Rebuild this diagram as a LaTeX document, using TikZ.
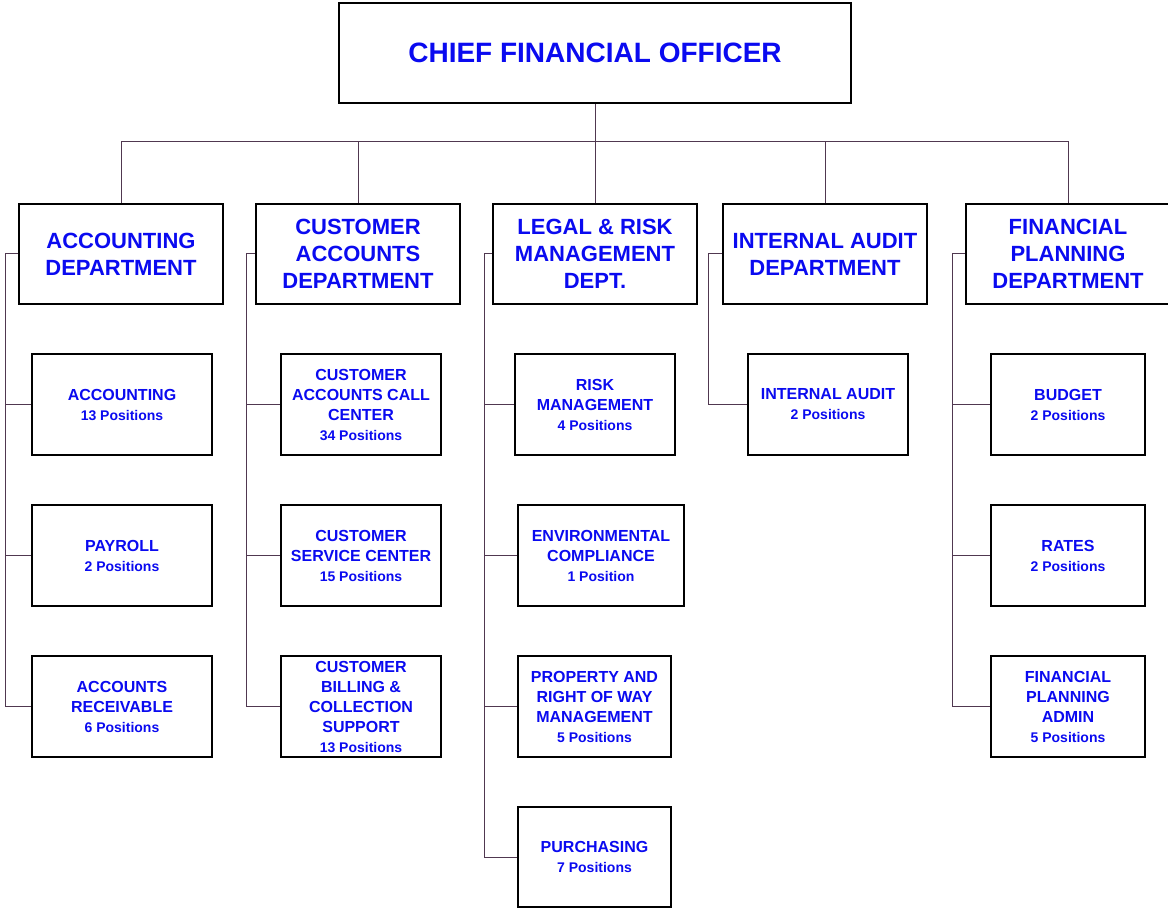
\documentclass[tikz,border=0pt]{standalone}
\usepackage{fontspec}
\setmainfont{Liberation Sans}
\usetikzlibrary{backgrounds}
\definecolor{txtblue}{RGB}{10,10,240}
\definecolor{conn}{RGB}{80,56,80}
\newcommand\subl{\fontsize{14}{17}\selectfont}
\begin{document}
\begin{tikzpicture}[x=1pt,y=-1pt,
 box/.style={draw=black, line width=2pt, fill=white, inner sep=2pt, align=center, text=txtblue},
 topbox/.style={box, minimum width=512pt, minimum height=100pt, font=\fontsize{28}{32}\selectfont\bfseries},
 dept/.style={box, minimum width=204pt, minimum height=100pt, font=\fontsize{22}{27}\selectfont\bfseries},
 unit/.style={box, minimum height=101pt, font=\fontsize{16}{20}\selectfont\bfseries},
 link/.style={draw=conn, line width=1pt}]
\useasboundingbox (0,0) rectangle (1168,909);

% spine and bus coordinates
\coordinate (bus) at (595,141.5);
\coordinate (accs) at (5.5,0);
\coordinate (custs) at (246.5,0);
\coordinate (legs) at (484.5,0);
\coordinate (ias) at (708.5,0);
\coordinate (fps) at (952.5,0);

\node[topbox] (cfo) at (595,53) {CHIEF FINANCIAL OFFICER};
\node[dept] (acc) at (121,254) {ACCOUNTING\\DEPARTMENT};
\node[dept] (cust) at (358,254) {CUSTOMER\\ACCOUNTS\\DEPARTMENT};
\node[dept] (leg) at (595,254) {LEGAL \& RISK\\MANAGEMENT\\DEPT.};
\node[dept] (ia) at (825,254) {INTERNAL AUDIT\\DEPARTMENT};
\node[dept] (fp) at (1068,254) {FINANCIAL\\PLANNING\\DEPARTMENT};

\node[unit, minimum width=180pt] (a1) at (122,404.5) {ACCOUNTING\\\subl 13 Positions};
\node[unit, minimum width=180pt] (a2) at (122,555.5) {PAYROLL\\\subl 2 Positions};
\node[unit, minimum width=180pt] (a3) at (122,706.5) {ACCOUNTS\\RECEIVABLE\\\subl 6 Positions};

\node[unit, minimum width=160pt] (c1) at (361,404.5) {CUSTOMER\\ACCOUNTS CALL\\CENTER\\\subl 34 Positions};
\node[unit, minimum width=160pt] (c2) at (361,555.5) {CUSTOMER\\SERVICE CENTER\\\subl 15 Positions};
\node[unit, minimum width=160pt] (c3) at (361,706.5) {CUSTOMER\\BILLING \&\\COLLECTION\\SUPPORT\\\subl 13 Positions};

\node[unit, minimum width=160pt] (l1) at (595,404.5) {RISK\\MANAGEMENT\\\subl 4 Positions};
\node[unit, minimum width=166pt] (l2) at (601,555.5) {ENVIRONMENTAL\\COMPLIANCE\\\subl 1 Position};
\node[unit, minimum width=153pt] (l3) at (594.5,706.5) {PROPERTY AND\\RIGHT OF WAY\\MANAGEMENT\\\subl 5 Positions};
\node[unit, minimum width=153pt, minimum height=100pt] (l4) at (594.5,857) {PURCHASING\\\subl 7 Positions};

\node[unit, minimum width=160pt] (i1) at (828,404.5) {INTERNAL AUDIT\\\subl 2 Positions};

\node[unit, minimum width=154pt] (f1) at (1068,404.5) {BUDGET\\\subl 2 Positions};
\node[unit, minimum width=154pt] (f2) at (1068,555.5) {RATES\\\subl 2 Positions};
\node[unit, minimum width=154pt] (f3) at (1068,706.5) {FINANCIAL\\PLANNING\\ADMIN\\\subl 5 Positions};

\begin{scope}[on background layer]
\fill[white] (0,0) rectangle (1168,909);
% top bus
\draw[link] (cfo.south) -- (bus);
\draw[link] (acc.north) |- (bus);
\draw[link] (cust.north) |- (bus);
\draw[link] (leg.north) -- (leg.north |- bus);
\draw[link] (ia.north) |- (bus);
\draw[link] (fp.north) |- (bus);

% side spines
\draw[link] (acc.west) -| (a3.west -| accs) -- (a3.west);
\draw[link] (a1.west) -- (a1.west -| accs);
\draw[link] (a2.west) -- (a2.west -| accs);

\draw[link] (cust.west) -| (c3.west -| custs) -- (c3.west);
\draw[link] (c1.west) -- (c1.west -| custs);
\draw[link] (c2.west) -- (c2.west -| custs);

\draw[link] (leg.west) -| (l4.west -| legs) -- (l4.west);
\draw[link] (l1.west) -- (l1.west -| legs);
\draw[link] (l2.west) -- (l2.west -| legs);
\draw[link] (l3.west) -- (l3.west -| legs);

\draw[link] (ia.west) -| (i1.west -| ias) -- (i1.west);

\draw[link] (fp.west) -| (f3.west -| fps) -- (f3.west);
\draw[link] (f1.west) -- (f1.west -| fps);
\draw[link] (f2.west) -- (f2.west -| fps);
\end{scope}
\end{tikzpicture}
\end{document}
